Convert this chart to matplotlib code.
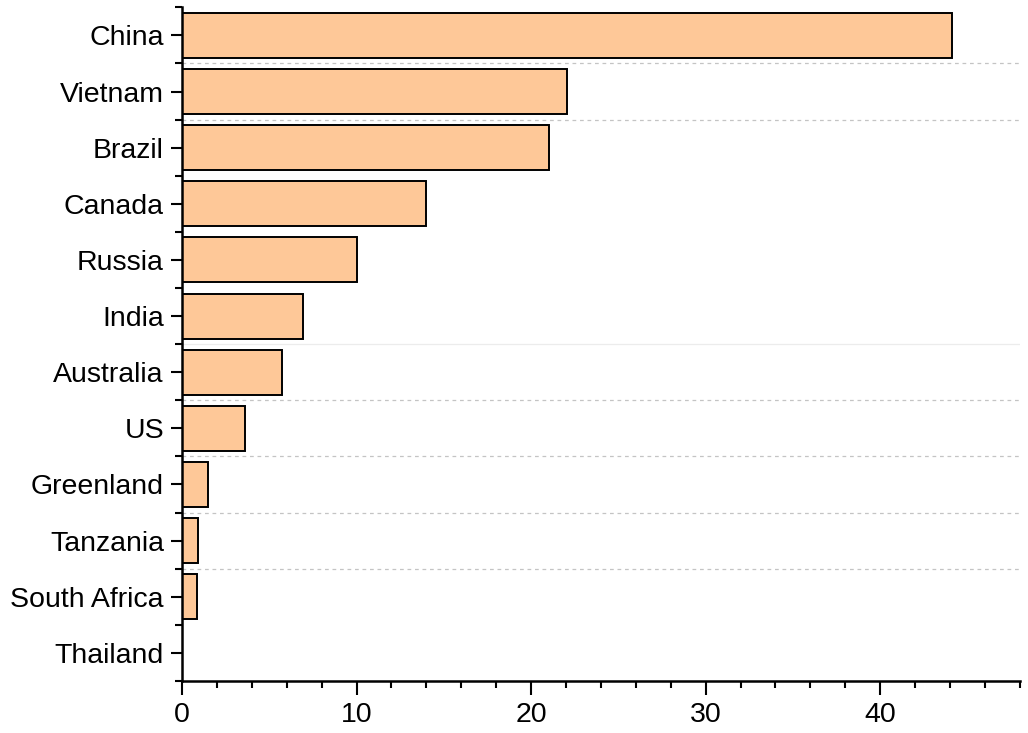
import matplotlib
matplotlib.use("Agg")
import matplotlib.pyplot as plt
from matplotlib.ticker import MultipleLocator, FixedLocator

countries = ["China", "Vietnam", "Brazil", "Canada", "Russia", "India", "Australia",
             "US", "Greenland", "Tanzania", "South Africa", "Thailand"]
values = [44.1, 22.05, 21.0, 14.0, 10.05, 6.95, 5.75, 3.6, 1.5, 0.9, 0.85, 0.0]
grid_boundaries = [0.5, 1.5, 5.5, 6.5, 7.5, 8.5, 9.5]
faint_boundaries = [5.5]

plt.rcParams['font.family'] = ['Liberation Sans', 'DejaVu Sans']

fig = plt.figure(figsize=(10.28, 7.33), dpi=100)
ax = fig.add_axes([0.177, 0.071, 0.815, 0.919])

y = list(range(len(countries)))
for b in grid_boundaries:
    if b in faint_boundaries:
        ax.axhline(b, color='#ececec', lw=0.9, ls='-', zorder=0)
    else:
        ax.axhline(b, color='#c4c4c4', lw=0.9, ls=(0, (3, 3)), zorder=0)

ax.barh(y, values, height=0.8, color='#FEC898', edgecolor='black', linewidth=1.4, zorder=2)

ax.set_ylim(len(countries) - 0.5, -0.5)
ax.set_xlim(0, 48)
ax.set_yticks(y)
ax.set_yticklabels(countries, fontsize=20.5)
ax.yaxis.set_minor_locator(FixedLocator([i - 0.5 for i in range(len(countries) + 1)]))
ax.xaxis.set_major_locator(MultipleLocator(10))
ax.xaxis.set_minor_locator(MultipleLocator(2))
ax.tick_params(axis='x', which='major', length=10, width=1.5, direction='out', labelsize=20.5, pad=5)
ax.tick_params(axis='x', which='minor', length=5, width=1.5, direction='out')
ax.tick_params(axis='y', which='major', length=8, width=1.5, direction='out', pad=5)
ax.tick_params(axis='y', which='minor', length=5, width=1.5, direction='out')

for s in ['top', 'right']:
    ax.spines[s].set_visible(False)
for s in ['left', 'bottom']:
    ax.spines[s].set_linewidth(1.8)

fig.savefig("out.png", dpi=100)
